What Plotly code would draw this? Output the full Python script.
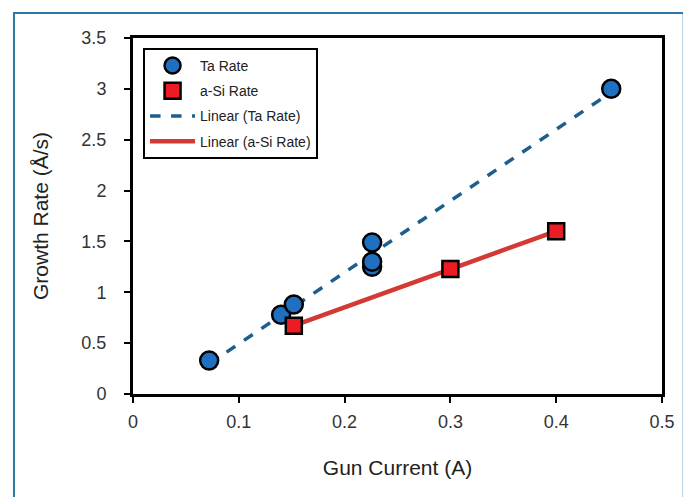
import numpy as np
import plotly.graph_objects as go

# Data
ta_current = [0.072, 0.140, 0.152, 0.226, 0.226, 0.226, 0.452]
ta_rate = [0.33, 0.78, 0.88, 1.25, 1.30, 1.49, 3.00]
asi_current = [0.152, 0.300, 0.400]
asi_rate = [0.67, 1.23, 1.60]
x_ticks = [0, 0.1, 0.2, 0.3, 0.4, 0.5]
x_ticklabels = ["0", "0.1", "0.2", "0.3", "0.4", "0.5"]
y_ticks = [0, 0.5, 1, 1.5, 2, 2.5, 3, 3.5]
y_ticklabels = ["0", "0.5", "1", "1.5", "2", "2.5", "3", "3.5"]

# Linear trendlines (least squares), drawn over the data range
def trend(xs, ys):
    m, c = np.polyfit(xs, ys, 1)
    xr = [min(xs), max(xs)]
    return xr, [m * v + c for v in xr]

ta_tx, ta_ty = trend(ta_current, ta_rate)
asi_tx, asi_ty = trend(asi_current, asi_rate)

FONT = "Arial, Liberation Sans, sans-serif"

fig = go.Figure()
fig.add_trace(go.Scatter(x=ta_tx, y=ta_ty, mode="lines", name="Linear (Ta Rate)",
                         legendgroup="g3",
                         line=dict(color="#1c5f8e", width=3.5, dash="dash"), legendrank=3))
fig.add_trace(go.Scatter(x=asi_tx, y=asi_ty, mode="lines", name="Linear (a-Si Rate)",
                         legendgroup="g4",
                         line=dict(color="#d23a33", width=4.5), legendrank=4))
fig.add_trace(go.Scatter(x=ta_current, y=ta_rate, mode="markers", name="Ta Rate",
                         legendgroup="g1",
                         marker=dict(symbol="circle", size=18, color="#1f70c1",
                                     line=dict(color="black", width=2.5)), legendrank=1))
fig.add_trace(go.Scatter(x=asi_current, y=asi_rate, mode="markers", name="a-Si Rate",
                         legendgroup="g2",
                         marker=dict(symbol="square", size=16, color="#ec1c24",
                                     line=dict(color="black", width=2.5)), legendrank=2))

# Outer frame of the figure panel
fig.add_shape(type="rect", xref="paper", yref="paper",
              x0=-0.225, x1=1.041, y0=-0.35, y1=1.070,
              line=dict(color="#2d78a8", width=2), fillcolor="rgba(0,0,0,0)", layer="below")

fig.update_layout(
    width=683, height=490,
    margin=dict(l=125, r=29, t=30, b=104),
    paper_bgcolor="white", plot_bgcolor="white",
    font=dict(family=FONT, color="#222222"),
    showlegend=True,
    legend=dict(x=0.019, y=0.972, xanchor="left", yanchor="top",
                bgcolor="white", bordercolor="black", borderwidth=2,
                font=dict(family=FONT, size=14, color="#222222"),
                itemwidth=45, tracegroupgap=4, traceorder="grouped"),
    xaxis=dict(range=[0, 0.5], tickvals=x_ticks, ticktext=x_ticklabels,
               showgrid=False, zeroline=False, showline=True, linecolor="black",
               linewidth=3, mirror=True, ticks="outside", ticklen=6, tickwidth=2,
               tickcolor="black", tickfont=dict(size=18, color="#333333"),
               ticklabelstandoff=3,
               title=dict(text="Gun Current (A)", font=dict(size=21, color="#222222"), standoff=30)),
    yaxis=dict(range=[0, 3.5], tickvals=y_ticks, ticktext=y_ticklabels,
               showgrid=False, zeroline=False, showline=True, linecolor="black",
               linewidth=3, mirror=True, ticks="outside", ticklen=6, tickwidth=2,
               tickcolor="black", tickfont=dict(size=18, color="#333333"),
               ticklabelstandoff=14,
               title=dict(text="Growth Rate (Å/s)", font=dict(size=21, color="#222222"), standoff=28)),
)

fig.write_html("out.html")
